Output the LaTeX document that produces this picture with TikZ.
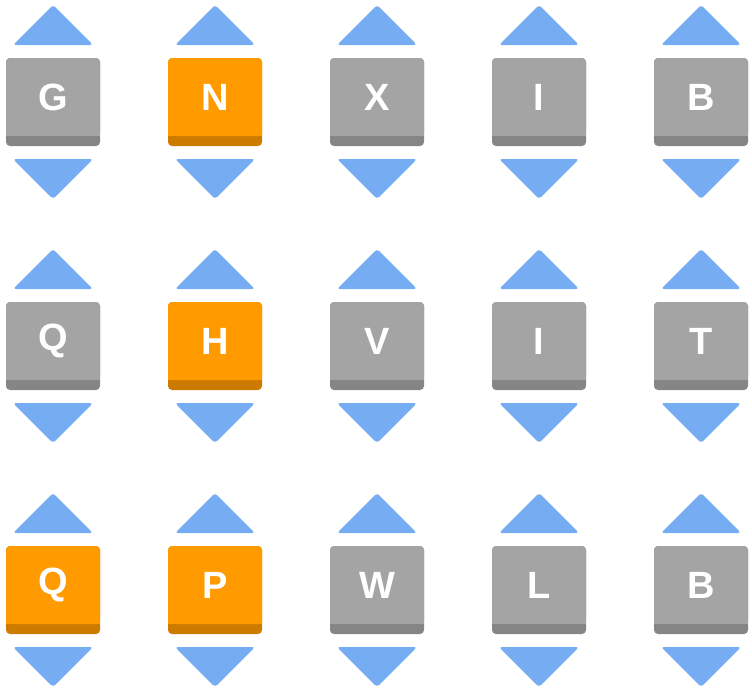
\documentclass[tikz,border=0pt]{standalone}
\usepackage{fontspec}
\setmainfont{Liberation Sans}
\begin{document}
\begin{tikzpicture}[x=1pt,y=-1pt,
  tri/.style={fill=arrowblue,rounded corners=3pt},
  lbl/.style={text=white,font=\fontsize{38}{38}\selectfont\bfseries,inner sep=0pt}]
\definecolor{arrowblue}{HTML}{76ACF1}
\definecolor{tgray}{HTML}{A4A4A4}
\definecolor{tgrayd}{HTML}{858585}
\definecolor{torange}{HTML}{FF9A00}
\definecolor{toranged}{HTML}{CC7A00}
\useasboundingbox (0,0) rectangle (752,688);
\newcommand{\tile}[5]{% x y letter fill dark
  \fill[#5,rounded corners=4pt] (#1-47,#2-44) rectangle (#1+47,#2+44);
  \fill[#4,rounded corners=4pt] (#1-47,#2-44) rectangle (#1+47,#2+34);
  \fill[#4] (#1-47,#2+28) rectangle (#1+47,#2+34);
  \node[lbl] (t#1#2) at (#1,#2-5) {#3};
  \fill[tri] (#1,#2-97) -- (#1+40,#2-57) -- (#1-40,#2-57) -- cycle;
  \fill[tri] (#1,#2+97) -- (#1+40,#2+57) -- (#1-40,#2+57) -- cycle;
}
\tile{53}{102}{G}{tgray}{tgrayd}
\tile{215}{102}{N}{torange}{toranged}
\tile{377}{102}{X}{tgray}{tgrayd}
\tile{539}{102}{I}{tgray}{tgrayd}
\tile{701}{102}{B}{tgray}{tgrayd}
\tile{53}{346}{Q}{tgray}{tgrayd}
\tile{215}{346}{H}{torange}{toranged}
\tile{377}{346}{V}{tgray}{tgrayd}
\tile{539}{346}{I}{tgray}{tgrayd}
\tile{701}{346}{T}{tgray}{tgrayd}
\tile{53}{590}{Q}{torange}{toranged}
\tile{215}{590}{P}{torange}{toranged}
\tile{377}{590}{W}{tgray}{tgrayd}
\tile{539}{590}{L}{tgray}{tgrayd}
\tile{701}{590}{B}{tgray}{tgrayd}
\end{tikzpicture}
\end{document}
